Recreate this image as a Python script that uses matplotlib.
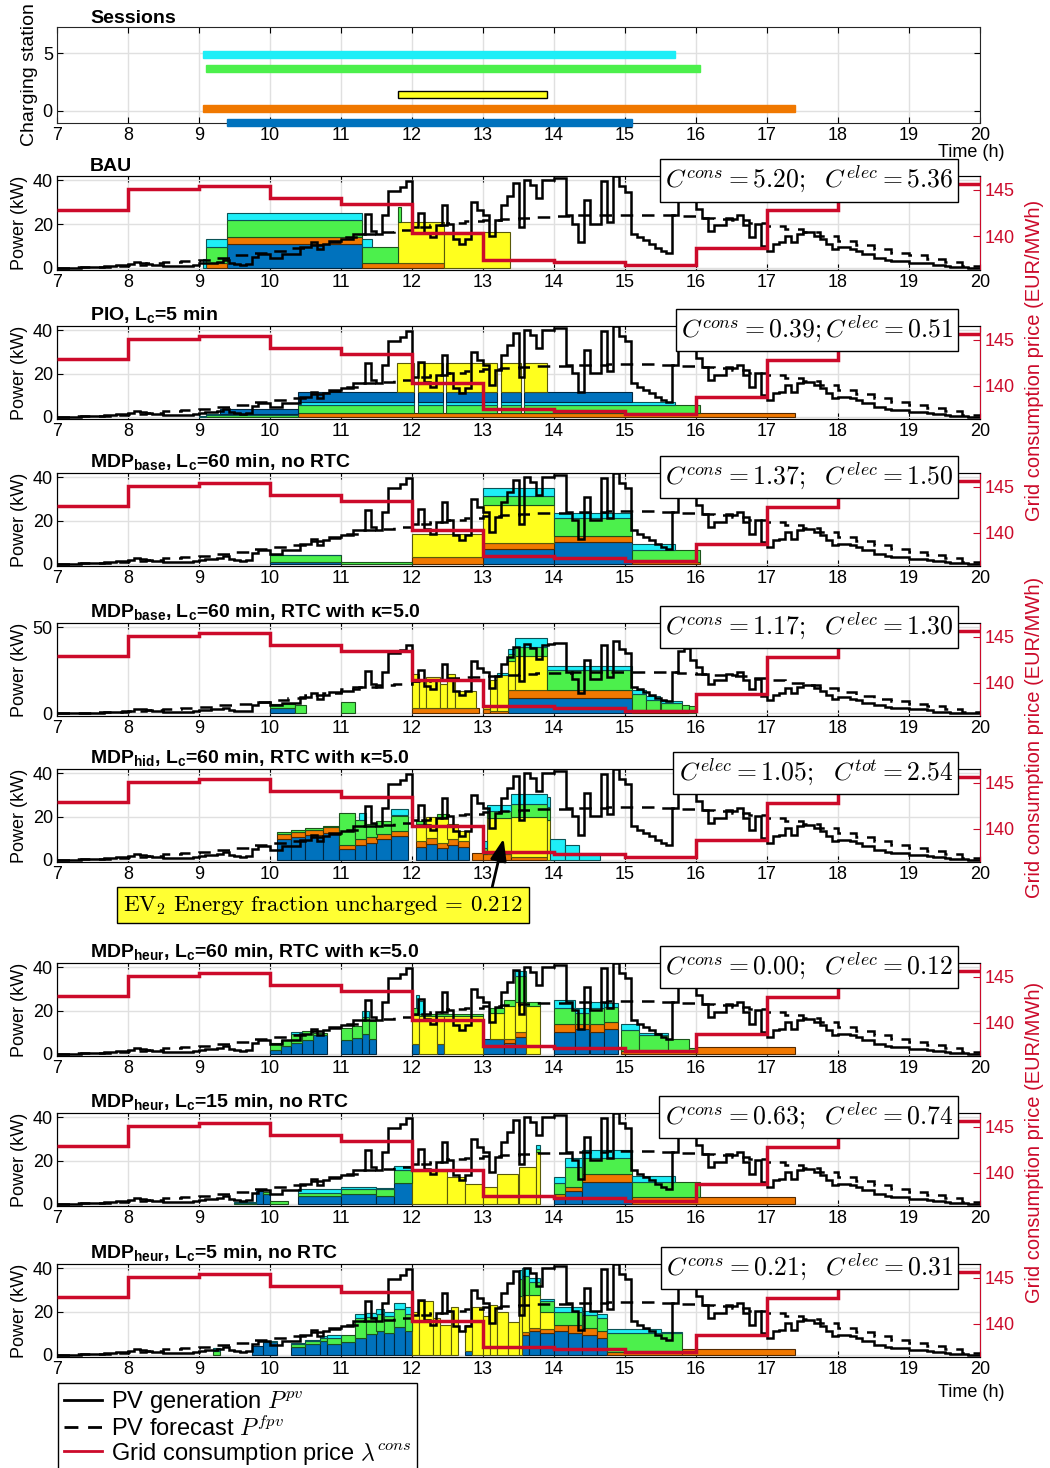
import numpy as np
import matplotlib
matplotlib.use('Agg')
import matplotlib.pyplot as plt
from matplotlib.lines import Line2D
from matplotlib.colors import to_rgb

plt.rcParams['font.family'] = ['Liberation Sans', 'DejaVu Sans']
plt.rcParams['mathtext.fontset'] = 'cm'
plt.rcParams['mathtext.bf'] = 'Liberation Sans:bold'
plt.rcParams['mathtext.rm'] = 'Liberation Sans'
plt.rcParams['mathtext.it'] = 'Liberation Sans:italic'
plt.rcParams['mathtext.sf'] = 'Liberation Sans'

# ---------------- data ----------------
hours = np.arange(7, 21)

# PV generation, 5-min steps from 7:00 to 20:00 (kW)
pv_kw = [
    0, 0, 0, 0.1, 0.2, 0.3, 0.4, 0.5, 0.7, 0.9, 1.1, 1.4,
    1.6, 2.6, 2.4, 1.8, 1.5, 1.2, 1.0, 0.9, 0.8, 0.8, 1.0, 1.2,
    2.0, 2.2, 2.4, 2.6, 3.4, 2.2, 1.6, 1.5, 1.6, 5.0, 6.5, 6.5,
    4.6, 4.6, 6.2, 6.2, 6.2, 9.3, 9.3, 11.6, 8.5, 10.9, 12.4, 12.4,
    13.2, 13.2, 15.5, 15.5, 24.8, 17.0, 15.5, 24.0, 35.0, 35.0, 37.0, 39.5,
    18.6, 25.3, 16.0, 14.0, 19.4, 28.7, 20.2, 13.2, 10.9, 13.2, 30.2, 26.4,
    24.0, 14.7, 21.7, 28.7, 33.0, 38.8, 18.6, 40.3, 38.0, 31.8, 40.0, 40.3,
    41.0, 41.0, 24.0, 20.2, 11.6, 31.0, 20.2, 20.2, 39.5, 21.0, 41.9, 37.2,
    34.9, 15.5, 14.0, 12.5, 10.9, 9.0, 7.8, 7.0, 24.0, 36.0, 38.0, 31.0,
    27.0, 23.0, 17.0, 19.4, 19.4, 23.0, 22.5, 24.0, 19.4, 14.0, 20.2, 10.0,
    7.8, 10.9, 11.6, 14.7, 11.6, 15.5, 16.3, 16.3, 14.7, 13.2, 10.9, 8.5,
    9.3, 9.3, 8.5, 7.8, 6.2, 6.2, 4.7, 4.7, 3.8, 3.1, 3.1, 3.1,
    2.3, 2.3, 2.3, 2.0, 1.1, 1.1, 1.0, 0.5, 0.3, 0.2, 0.1, 0.0,
]

# PV forecast, 15-min steps (kW)
pv_forecast_kw = [
    0.0, 0.3, 0.6, 1.0, 1.3, 2.0, 2.6, 3.0, 3.6, 4.6, 5.7, 6.8,
    7.6, 8.9, 10.5, 12.0, 14.0, 15.5, 16.3, 17.1, 18.6, 19.5, 20.5, 21.2,
    22.0, 22.5, 23.0, 23.3, 23.6, 24.0, 24.0, 24.2, 24.2, 24.2, 24.0, 23.5,
    23.0, 22.5, 21.8, 20.5, 19.2, 17.8, 16.5, 14.5, 12.4, 10.4, 8.5, 7.0,
    5.7, 4.2, 2.6, 0.8,
]

# grid consumption price, hourly (EUR/MWh)
price = [142.9, 145.1, 145.4, 144.1, 143.5, 140.35, 137.5, 137.3, 136.9,
         138.8, 142.8, 144.1, 145.6]

# charging sessions: (arrival, departure, row)
sessions = {
    'cyan': (9.05, 15.7, 4.9),
    'green': (9.1, 16.05, 3.7),
    'yellow': (11.8, 13.9, 1.4),
    'orange': (9.05, 17.4, 0.2),
    'blue': (9.4, 15.1, -1.0),
}

# EV charging power per strategy: (start h, end h, kW)
bau = {
    'blue': [(9.4, 11.3, 10.9)],
    'orange': [(9.1, 9.4, 2.3), (9.4, 11.3, 3.4), (11.3, 12.45, 2.0)],
    'yellow': [(11.8, 12.45, 18.9), (12.45, 13.38, 16.6)],
    'green': [(9.1, 9.4, 7.0), (9.4, 11.3, 7.4), (11.3, 11.8, 7.3), (11.8, 11.85, 7.0)],
    'cyan': [(9.05, 9.4, 3.9), (9.4, 11.3, 3.6), (11.3, 11.43, 3.7)],
}

pio_gaps = [(12.03, 12.08), (12.42, 12.47), (13.2, 13.25), (13.52, 13.57)]
pio = {
    'orange': [(10.4, 17.4, 1.8)],
    'green': [(9.1, 10.4, 0.8), (10.4, 16.05, 3.7)],
    'cyan': [(9.0, 10.4, 0.5), (10.4, 15.7, 1.5)],
    'blue': [(9.3, 10.4, 2.5), (10.4, 15.1, 4.5)],
    'yellow': [(11.78, 13.9, 13.4)],
}

mdp_base = {
    'blue': [(10.0, 11.0, 0.8), (13.0, 14.0, 7.0), (14.0, 15.1, 10.0)],
    'orange': [(12.0, 13.0, 3.0), (13.0, 14.0, 2.5), (14.0, 15.1, 3.0), (15.1, 16.05, 1.0)],
    'yellow': [(12.0, 13.0, 11.0), (13.0, 14.0, 17.5)],
    'green': [(10.0, 11.0, 3.2), (11.0, 12.0, 1.0), (13.0, 14.0, 4.5), (14.0, 15.1, 8.0),
              (15.1, 16.05, 5.5)],
    'cyan': [(10.0, 11.0, 0.3), (13.0, 14.0, 3.5), (14.0, 15.1, 2.5), (15.1, 15.7, 2.5)],
}

mdp_base_rtc = {
    'blue': [(10.0, 10.35, 3.0), (13.35, 15.1, 9.0), (15.1, 15.9, 0.3)],
    'orange': [(12.0, 12.95, 3.0), (13.0, 13.1, 2.5), (13.1, 13.35, 1.5), (13.35, 15.1, 4.5),
               (15.1, 15.9, 1.5)],
    'yellow': [(12.0, 12.1, 20), (12.1, 12.2, 16), (12.2, 12.4, 18), (12.4, 12.5, 14),
               (12.5, 12.6, 20), (12.6, 12.9, 10), (13.0, 13.1, 1.5), (13.1, 13.2, 18),
               (13.2, 13.35, 21), (13.35, 13.45, 17), (13.45, 13.9, 20)],
    'green': [(10.0, 10.35, 2.5), (10.35, 10.5, 5.0), (11.0, 11.2, 6.5), (13.35, 13.45, 4.0),
              (13.45, 13.9, 5.0), (13.9, 15.1, 12.0), (15.1, 15.3, 9.5), (15.3, 15.5, 6.0),
              (15.5, 15.8, 4.0), (15.8, 15.9, 3.0), (15.9, 16.0, 4.5)],
    'cyan': [(13.2, 13.35, 1.0), (13.35, 13.45, 3.0), (13.45, 13.9, 5.5), (13.9, 15.1, 2.0),
             (15.1, 15.3, 2.5), (15.3, 15.5, 2.5), (15.5, 15.8, 1.5)],
}

mdp_hid = {
    'blue': [(10.1, 10.3, 9.5), (10.3, 10.5, 10.5), (10.5, 10.75, 11.5), (10.75, 10.97, 12.5),
             (10.97, 11.2, 5.0), (11.2, 11.35, 7.0), (11.35, 11.5, 8.0), (11.5, 11.7, 9.5),
             (11.7, 11.95, 11.0), (12.05, 12.2, 6.0), (12.2, 12.35, 7.5), (12.35, 12.5, 5.5),
             (12.5, 12.65, 7.0), (12.65, 12.8, 6.0)],
    'orange': [(10.1, 10.97, 2.5), (10.97, 11.2, 2.0), (11.2, 11.95, 2.5), (12.05, 12.8, 2.5),
               (12.85, 13.0, 3.0), (13.0, 13.4, 2.5), (13.4, 13.9, 1.5)],
    'yellow': [(12.05, 12.2, 8), (12.2, 12.35, 10), (12.35, 12.5, 12), (12.5, 12.65, 7),
               (12.65, 12.8, 5), (13.05, 13.4, 17), (13.4, 13.95, 18.5)],
    'green': [(10.1, 10.97, 0.7), (10.97, 11.2, 14.5), (11.2, 11.35, 9), (11.35, 11.5, 6),
              (11.5, 11.7, 6), (11.7, 11.95, 7), (12.05, 12.2, 1.5), (12.35, 12.5, 1.0),
              (13.0, 13.4, 3), (13.4, 13.95, 6)],
    'cyan': [(11.25, 11.35, 3), (11.7, 11.95, 3), (13.0, 13.4, 3), (13.4, 13.95, 4.5),
             (13.95, 14.15, 9.5), (14.15, 14.35, 7.0), (14.35, 14.65, 3.0)],
}

mdp_heur60 = {
    'blue': [(10.0, 10.15, 2.0), (10.15, 10.3, 3.5), (10.3, 10.45, 5.0), (10.45, 10.6, 6.5),
             (10.6, 10.8, 8.5), (11.0, 11.15, 6.5), (11.15, 11.3, 7.5), (11.3, 11.4, 9.0),
             (11.4, 11.5, 7.0), (12.0, 12.1, 4.5), (12.35, 12.45, 4.5), (13.0, 13.3, 7.0),
             (13.3, 13.45, 5.0), (13.45, 13.6, 8.0), (14.0, 14.3, 10.0), (14.3, 14.5, 11.5),
             (14.5, 14.7, 10.0), (14.7, 14.9, 11.5)],
    'orange': [(13.3, 13.45, 2.0), (13.45, 13.6, 2.0), (14.0, 14.3, 4.0), (14.3, 14.5, 2.5),
               (14.5, 14.7, 4.0), (14.7, 14.9, 3.0), (14.95, 16.0, 1.5), (16.0, 17.4, 3.0)],
    'yellow': [(12.0, 12.1, 13.5), (12.1, 12.35, 17.5), (12.35, 12.45, 13.0), (12.45, 13.0, 17.5),
               (13.1, 13.3, 12.0), (13.3, 13.45, 15.0), (13.45, 13.6, 14.0), (13.6, 13.8, 22.0)],
    'green': [(10.0, 10.3, 3.0), (10.3, 10.6, 4.0), (10.6, 10.8, 1.0), (11.0, 11.3, 5.5),
              (11.3, 11.5, 8.0), (12.0, 12.1, 3.0), (12.1, 13.0, 1.0), (13.1, 13.3, 2.0),
              (13.3, 13.45, 3.0), (13.45, 13.6, 12.0), (13.6, 13.8, 2.0), (14.0, 14.3, 7.0),
              (14.3, 14.5, 5.0), (14.5, 14.7, 7.0), (14.7, 14.9, 7.0), (14.95, 15.2, 9.5),
              (15.2, 15.6, 7.0), (15.6, 15.9, 5.5), (15.9, 16.0, 1.0)],
    'cyan': [(10.3, 10.45, 1.0), (11.3, 11.4, 3.0), (12.05, 12.15, 6.0), (13.45, 13.6, 2.5),
             (14.0, 14.3, 4.0), (14.3, 14.5, 2.0), (14.5, 14.7, 3.0), (14.7, 14.9, 2.0),
             (14.95, 15.2, 3.0), (15.2, 15.6, 1.0)],
}

mdp_heur15 = {
    'blue': [(9.8, 9.9, 6.0), (9.9, 10.0, 4.5), (10.4, 11.0, 3.4), (11.0, 11.5, 4.5),
             (11.5, 11.75, 3.5), (11.75, 12.0, 9.5), (14.0, 14.15, 3.0), (14.15, 14.4, 6.0),
             (14.4, 15.1, 10.0)],
    'orange': [(14.0, 14.15, 1.5), (14.15, 14.4, 2.0), (14.4, 15.1, 4.0), (15.1, 17.4, 3.0)],
    'yellow': [(12.0, 12.5, 15.0), (12.5, 12.75, 12.5), (12.75, 13.0, 9.0), (13.0, 13.2, 8.0),
               (13.2, 13.5, 14.0), (13.5, 13.75, 17.0), (13.75, 13.8, 24.0)],
    'green': [(9.5, 9.8, 0.5), (9.9, 10.0, 1.0), (10.0, 10.25, 1.5), (10.4, 11.0, 1.8),
              (11.0, 11.5, 2.5), (11.5, 11.75, 3.5), (11.75, 12.0, 6.0), (13.75, 13.8, 1.5),
              (14.0, 14.15, 5.0), (14.15, 14.4, 9.0), (14.4, 15.1, 7.0), (15.1, 15.7, 7.0),
              (15.7, 16.05, 7.0)],
    'cyan': [(9.5, 9.8, 0.5), (10.4, 11.0, 1.5), (11.0, 11.5, 1.0), (11.5, 11.75, 0.5),
             (11.75, 12.0, 2.0), (13.75, 13.8, 1.5), (14.0, 14.15, 3.0), (14.15, 14.4, 4.0),
             (14.4, 15.1, 4.0), (15.1, 15.7, 3.0)],
}

mdp_heur5 = {
    'blue': [(9.75, 9.9, 4.0), (9.9, 10.1, 6.0), (10.3, 10.5, 3.5), (10.5, 10.7, 5.0),
             (10.7, 10.8, 6.5), (10.8, 11.0, 5.0), (11.0, 11.2, 6.0), (11.2, 11.35, 8.0),
             (11.35, 11.5, 9.5), (11.5, 11.6, 11.0), (11.6, 11.75, 10.0), (11.75, 11.9, 13.0),
             (11.9, 12.0, 11.0), (12.75, 12.85, 2.0), (13.55, 13.65, 9.0), (13.65, 13.8, 11.0),
             (13.8, 14.0, 10.0), (14.0, 14.2, 11.0), (14.2, 14.4, 10.0), (14.4, 14.6, 9.0),
             (14.6, 14.75, 8.0)],
    'orange': [(13.55, 13.8, 1.5), (13.8, 14.0, 2.0), (14.0, 14.2, 3.0), (14.2, 14.4, 4.0),
               (14.4, 14.6, 3.5), (14.6, 14.75, 3.0), (14.75, 15.8, 1.5), (15.8, 17.4, 2.5)],
    'yellow': [(12.0, 12.1, 20.0), (12.1, 12.3, 25.0), (12.3, 12.4, 17.0), (12.4, 12.55, 14.0),
               (12.55, 12.65, 22.0), (12.75, 12.85, 12.0), (12.85, 13.0, 22.0), (13.0, 13.1, 18.0),
               (13.1, 13.2, 23.0), (13.2, 13.35, 20.0), (13.35, 13.5, 15.0), (13.5, 13.55, 27.0),
               (13.55, 13.65, 17.0), (13.65, 13.8, 15.0), (13.8, 14.0, 8.0)],
    'green': [(9.2, 9.3, 2.0), (10.3, 10.8, 1.5), (10.8, 11.0, 3.0), (11.0, 11.2, 3.0),
              (11.2, 11.35, 9.0), (11.35, 12.0, 8.0), (13.5, 13.55, 8.0), (13.55, 13.65, 9.0),
              (13.65, 13.8, 6.0), (13.8, 14.0, 5.0), (14.0, 14.75, 6.0), (14.75, 15.8, 8.5)],
    'cyan': [(9.2, 9.3, 1.0), (9.9, 10.1, 0.5), (10.3, 10.8, 0.5), (10.8, 11.0, 1.0),
             (11.2, 11.75, 2.0), (11.75, 12.0, 3.0), (13.5, 13.55, 4.0), (13.55, 13.65, 3.5),
             (13.65, 13.8, 2.0), (13.8, 14.0, 1.0), (14.0, 14.75, 2.0), (14.75, 15.5, 2.0),
             (15.5, 15.8, 0.5)],
}

titles = [
    'BAU',
    r'PIO, L$_\mathbf{c}$=5 min',
    r'MDP$_\mathbf{base}$, L$_\mathbf{c}$=60 min, no RTC',
    r'MDP$_\mathbf{base}$, L$_\mathbf{c}$=60 min, RTC with κ=5.0',
    r'MDP$_\mathbf{hid}$, L$_\mathbf{c}$=60 min, RTC with κ=5.0',
    r'MDP$_\mathbf{heur}$, L$_\mathbf{c}$=60 min, RTC with κ=5.0',
    r'MDP$_\mathbf{heur}$, L$_\mathbf{c}$=15 min, no RTC',
    r'MDP$_\mathbf{heur}$, L$_\mathbf{c}$=5 min, no RTC',
]
costs = [
    r'$C^{cons}=5.20;\ \ C^{elec}=5.36$',
    r'$C^{cons}=0.39; C^{elec}=0.51$',
    r'$C^{cons}=1.37;\ \ C^{elec}=1.50$',
    r'$C^{cons}=1.17;\ \ C^{elec}=1.30$',
    r'$C^{elec}=1.05;\ \ C^{tot}=2.54$',
    r'$C^{cons}=0.00;\ \ C^{elec}=0.12$',
    r'$C^{cons}=0.63;\ \ C^{elec}=0.74$',
    r'$C^{cons}=0.21;\ \ C^{elec}=0.31$',
]
panels = [bau, pio, mdp_base, mdp_base_rtc, mdp_hid, mdp_heur60, mdp_heur15, mdp_heur5]

# ---------------- style ----------------
COL = {'blue': '#0072BD', 'orange': '#F07800', 'yellow': '#FFFF1E',
       'green': '#4CF04C', 'cyan': '#1EEEF7'}
RED = '#CC0A2A'
DEFAULT_ORDER = ['blue', 'orange', 'yellow', 'green', 'cyan']
PIO_ORDER = ['orange', 'green', 'cyan', 'blue', 'yellow']

W, H = 1050, 1468
LEFT, RIGHT = 57, 980
panel_px = [(176, 270), (326, 419), (473, 566), (623, 716),
            (769, 862), (963, 1056), (1113, 1206), (1264, 1357)]

T = 7 + np.arange(13 * 60 + 1) / 60.0


def on_grid(segs):
    v = np.zeros(len(T) - 1)
    mids = T[:-1] + 1 / 120
    for t0, t1, kw in segs:
        v[(mids >= t0) & (mids < t1)] = kw
    return v


def darker(c, f=0.35):
    return tuple(np.array(to_rgb(c)) * f)


def add_axes(top, bottom):
    return fig.add_axes([LEFT / W, 1 - bottom / H, (RIGHT - LEFT) / W, (bottom - top) / H])


def style_axis(ax):
    ax.set_xlim(7, 20)
    ax.set_xticks(hours)
    ax.tick_params(direction='in', labelsize=13, pad=3, length=4, top=True)
    ax.grid(True, color='#E0E0E0', lw=1)
    ax.set_axisbelow(True)
    for s in ax.spines.values():
        s.set_color('#262626')


def draw_stack(ax, panel, order, gaps=()):
    lo = np.zeros(len(T) - 1)
    for name in order:
        vals = on_grid(panel[name])
        if gaps and name != 'orange':
            for a, b in gaps:
                vals[(T[:-1] >= a) & (T[:-1] < b)] = 0
        hi = lo + vals
        brk = np.flatnonzero((np.diff(lo) != 0) | (np.diff(hi) != 0)) + 1
        starts = np.r_[0, brk]
        ends = np.r_[brk, len(lo)]
        for s, e in zip(starts, ends):
            if hi[s] - lo[s] > 1e-9:
                ax.bar(T[s], hi[s] - lo[s], width=T[e] - T[s], bottom=lo[s], align='edge',
                       color=COL[name], edgecolor=darker(COL[name]), linewidth=0.8, zorder=2)
        lo = hi


fig = plt.figure(figsize=(W / 100, H / 100), dpi=100)

# ---------------- sessions ----------------
ax = add_axes(27, 123)
style_axis(ax)
ax.tick_params(right=True)
for name, (t0, t1, row) in sessions.items():
    ec = 'black' if name == 'yellow' else COL[name]
    ax.barh(row, t1 - t0, left=t0, height=0.6, color=COL[name], edgecolor=ec,
            linewidth=1.0, clip_on=False, zorder=3)
ax.set_ylim(-1.05, 7.25)
ax.set_yticks([0, 5])
ax.set_ylabel('Charging station', fontsize=14)
ax.yaxis.set_label_coords(-0.021, 0.5)
ax.text(0.036, 1.005, 'Sessions', transform=ax.transAxes, fontsize=14, fontweight='bold',
        ha='left', va='bottom')
ax.text(0.99, -0.31, 'Time (h)', transform=ax.transAxes, fontsize=13, ha='center', va='center')

# ---------------- power panels ----------------
pv_edges = 7 + np.arange(len(pv_kw) + 1) / 12
fc_edges = 7 + np.arange(len(pv_forecast_kw) + 1) / 4

for i, panel in enumerate(panels):
    top, bottom = panel_px[i]
    ax = add_axes(top, bottom)
    style_axis(ax)
    order = PIO_ORDER if panel is pio else DEFAULT_ORDER
    draw_stack(ax, panel, order, gaps=pio_gaps if panel is pio else ())
    ax.stairs(pv_forecast_kw, fc_edges, baseline=None, color='black', lw=1.8,
              linestyle=(0, (5, 3.5)), zorder=4)
    ax.stairs(pv_kw, pv_edges, baseline=None, color='black', lw=1.8, zorder=5)
    if panel is mdp_base_rtc:
        ax.set_ylim(-1.5, 52.5)
        ax.set_yticks([0, 50])
    else:
        ax.set_ylim(-1.0, 42.0)
        ax.set_yticks([0, 20, 40])
    ax.set_ylabel('Power (kW)', fontsize=13)
    ax.yaxis.set_label_coords(-0.031, 0.5)
    ax.text(0.036, 1.01, titles[i], transform=ax.transAxes, fontsize=14, fontweight='bold',
            ha='left', va='bottom', math_fontfamily='custom')

    ax2 = ax.twinx()
    ax2.stairs(price, hours, baseline=None, color=RED, lw=2.5, zorder=3)
    ax2.set_ylim(136.4, 146.5)
    ax2.set_yticks([140, 145])
    ax2.tick_params(axis='y', direction='in', colors=RED, labelsize=13, pad=3, length=5)
    ax2.spines['right'].set_color(RED)
    ax2.text(0.971, 0.955, costs[i], transform=ax2.transAxes, fontsize=18.5, ha='right',
             va='center', zorder=10,
             bbox=dict(boxstyle='square,pad=0.2', fc='white', ec='black', lw=1))

    if panel is mdp_hid:
        ax2.annotate(r'$\mathrm{EV_2\ Energy\ fraction\ uncharged}\,=\,0.212$',
                     xy=(13.29, 0.25), xycoords=('data', 'axes fraction'),
                     xytext=(0.288, -0.46), textcoords='axes fraction',
                     fontsize=16.5, ha='center', va='center', zorder=10,
                     bbox=dict(boxstyle='square,pad=0.25', fc='#FFFF33', ec='black', lw=1),
                     arrowprops=dict(arrowstyle='-|>,head_width=0.3,head_length=0.8',
                                     color='black', lw=2, relpos=(0.92, 1.0),
                                     shrinkA=0, shrinkB=0))

ax.text(0.99, -0.385, 'Time (h)', transform=ax.transAxes, fontsize=13, ha='center',
        va='center')

for yc in (360, 737, 1142):
    fig.text(1035 / W, 1 - yc / H, 'Grid consumption price (EUR/MWh)', rotation=90,
             color=RED, fontsize=14.5, ha='center', va='center')

handles = [Line2D([], [], color='black', lw=2),
           Line2D([], [], color='black', lw=2, linestyle=(0, (5, 3.5))),
           Line2D([], [], color=RED, lw=2)]
labels = [r'PV generation $P^{pv}$', r'PV forecast $P^{fpv}$',
          r'Grid consumption price $\lambda^{cons}$']
leg = fig.legend(handles, labels, loc='upper left', bbox_to_anchor=(58 / W, 1 - 1383 / H),
                 fontsize=17, frameon=True, fancybox=False, edgecolor='black',
                 framealpha=1, borderaxespad=0, handlelength=1.6, labelspacing=0.0,
                 borderpad=0.25, handletextpad=0.4)
leg.get_frame().set_linewidth(1)

fig.savefig('out.png', dpi=100)
